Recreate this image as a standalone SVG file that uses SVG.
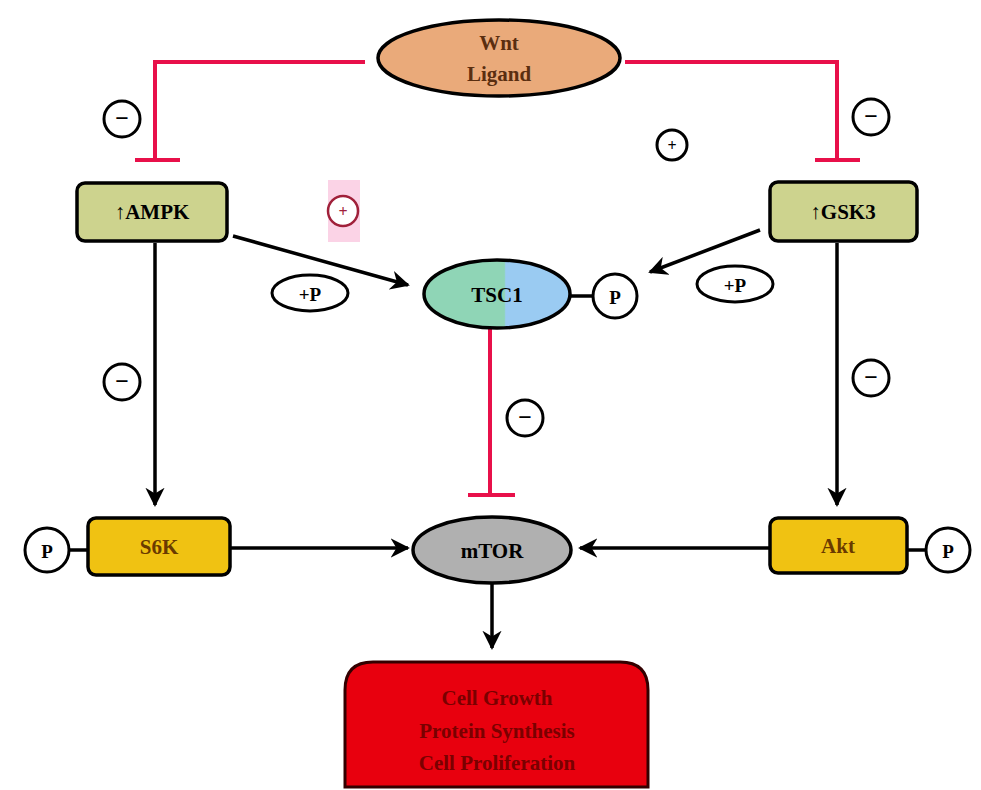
<svg xmlns="http://www.w3.org/2000/svg" width="981" height="790" viewBox="0 0 981 790">
<style>
text{font-family:"Liberation Serif","Times New Roman",serif;font-weight:bold;text-anchor:middle;dominant-baseline:central}
.blk{stroke:#000;stroke-width:3.5;fill:none}
.inh{stroke:#E8104A;stroke-width:4;fill:none}
.sig{fill:#fff;stroke:#000;stroke-width:3}
.sym{font-size:24px;fill:#000}
.lbl{font-size:19px;fill:#000}
</style>
<defs>
<marker id="ah" viewBox="0 0 10 10" refX="9" refY="5" markerWidth="5.5" markerHeight="5.5" orient="auto">
<path d="M0,0 L10,5 L0,10 L3,5 Z" fill="#000"/>
</marker>
<linearGradient id="tsc" x1="0" x2="1" y1="0" y2="0">
<stop offset="0.55" stop-color="#8FD5B6"/><stop offset="0.56" stop-color="#9ACBF2"/>
</linearGradient>
</defs>
<rect width="981" height="790" fill="#fff"/>
<g id="connectors">
<path class="inh" d="M365,62 H155 V158"/>
<path class="inh" d="M135,160 H180" stroke-width="6"/>
<path class="inh" d="M625,62 H837 V158"/>
<path class="inh" d="M815,160 H860" stroke-width="6"/>
<path class="inh" d="M490,328 V493"/>
<path class="inh" d="M468,495 H515" stroke-width="6"/>
<path class="blk" d="M233,236 L408,285" marker-end="url(#ah)"/>
<path class="blk" d="M760,230 L650,272" marker-end="url(#ah)"/>
<path class="blk" d="M155,243 V505" marker-end="url(#ah)"/>
<path class="blk" d="M837,243 V505" marker-end="url(#ah)"/>
<path class="blk" d="M230,548 H408" marker-end="url(#ah)"/>
<path class="blk" d="M770,548 H580" marker-end="url(#ah)"/>
<path class="blk" d="M492,584 V648" marker-end="url(#ah)"/>
<path class="blk" d="M570,296 H593"/>
<path class="blk" d="M69,550 H88"/>
<path class="blk" d="M907,550 H926"/>
</g>
<g id="wnt">
<ellipse cx="499" cy="58" rx="121" ry="38" fill="#EAAA7A" stroke="#000" stroke-width="3.5"/>
<text x="499" y="43" font-size="21" fill="#5A2E10">Wnt</text>
<text x="499" y="74" font-size="21" fill="#5A2E10">Ligand</text>
</g>
<g id="ampk">
<rect x="77" y="183" width="150" height="58" rx="8" fill="#CDD38E" stroke="#000" stroke-width="3.5"/>
<text x="152" y="212" font-size="21" fill="#000">↑AMPK</text>
</g>
<g id="gsk3">
<rect x="770" y="182" width="147" height="59" rx="8" fill="#CDD38E" stroke="#000" stroke-width="3.5"/>
<text x="843" y="212" font-size="21" fill="#000">↑GSK3</text>
</g>
<g id="tsc">
<ellipse cx="497" cy="294" rx="73" ry="34" fill="url(#tsc)" stroke="#000" stroke-width="3.5"/>
<text x="497" y="295" font-size="21" fill="#000">TSC1</text>
</g>
<g id="p-tsc"><circle cx="615" cy="296" r="22" class="sig"/><text x="615" y="297" class="lbl">P</text></g>
<g id="plusP-left"><ellipse cx="310" cy="293" rx="38" ry="18" class="sig"/><text x="310" y="294" class="lbl">+P</text></g>
<g id="plusP-right"><ellipse cx="735" cy="284" rx="38" ry="18" class="sig"/><text x="735" y="285" class="lbl">+P</text></g>
<g id="minus-tl"><circle cx="122" cy="119" r="18" class="sig"/><text x="122" y="118" class="sym">−</text></g>
<g id="minus-tr"><circle cx="871" cy="117" r="18" class="sig"/><text x="871" y="116" class="sym">−</text></g>
<g id="plus-top"><circle cx="672" cy="145" r="15" class="sig" stroke-width="1.5"/><text x="672" y="145" font-size="16">+</text></g>
<g id="plus-pink"><rect x="328" y="180" width="32" height="62" fill="#FBD3E6"/><circle cx="343" cy="211" r="15" fill="#fff" stroke="#A0203A" stroke-width="2.5"/><text x="343" y="211" font-size="16" fill="#A0203A">+</text></g>
<g id="minus-l"><circle cx="122" cy="382" r="18" class="sig"/><text x="122" y="381" class="sym">−</text></g>
<g id="minus-r"><circle cx="871" cy="378" r="18" class="sig"/><text x="871" y="377" class="sym">−</text></g>
<g id="minus-c"><circle cx="525" cy="418" r="18" class="sig"/><text x="525" y="417" class="sym">−</text></g>
<g id="s6k">
<rect x="88" y="518" width="142" height="57" rx="8" fill="#F0C212" stroke="#000" stroke-width="3.5"/>
<text x="159" y="547" font-size="21" fill="#6A3A00">S6K</text>
</g>
<g id="p-left"><circle cx="47" cy="550" r="22" class="sig"/><text x="47" y="551" class="lbl">P</text></g>
<g id="akt">
<rect x="770" y="518" width="137" height="55" rx="8" fill="#F0C212" stroke="#000" stroke-width="3.5"/>
<text x="838" y="546" font-size="21" fill="#6A3A00">Akt</text>
</g>
<g id="p-right"><circle cx="948" cy="550" r="22" class="sig"/><text x="948" y="551" class="lbl">P</text></g>
<g id="mtor">
<ellipse cx="492" cy="550" rx="79" ry="33" fill="#B0B0B0" stroke="#000" stroke-width="3.5"/>
<text x="492" y="551" font-size="21" fill="#000">mTOR</text>
</g>
<g id="outcome">
<path d="M345,787 V690 Q345,662 373,662 H620 Q648,662 648,690 V787 Z" fill="#E8000E" stroke="#300" stroke-width="3"/>
<text x="497" y="698" font-size="21" fill="#7A0000">Cell Growth</text>
<text x="497" y="731" font-size="21" fill="#7A0000">Protein Synthesis</text>
<text x="497" y="763" font-size="21" fill="#7A0000">Cell Proliferation</text>
</g>
</svg>
